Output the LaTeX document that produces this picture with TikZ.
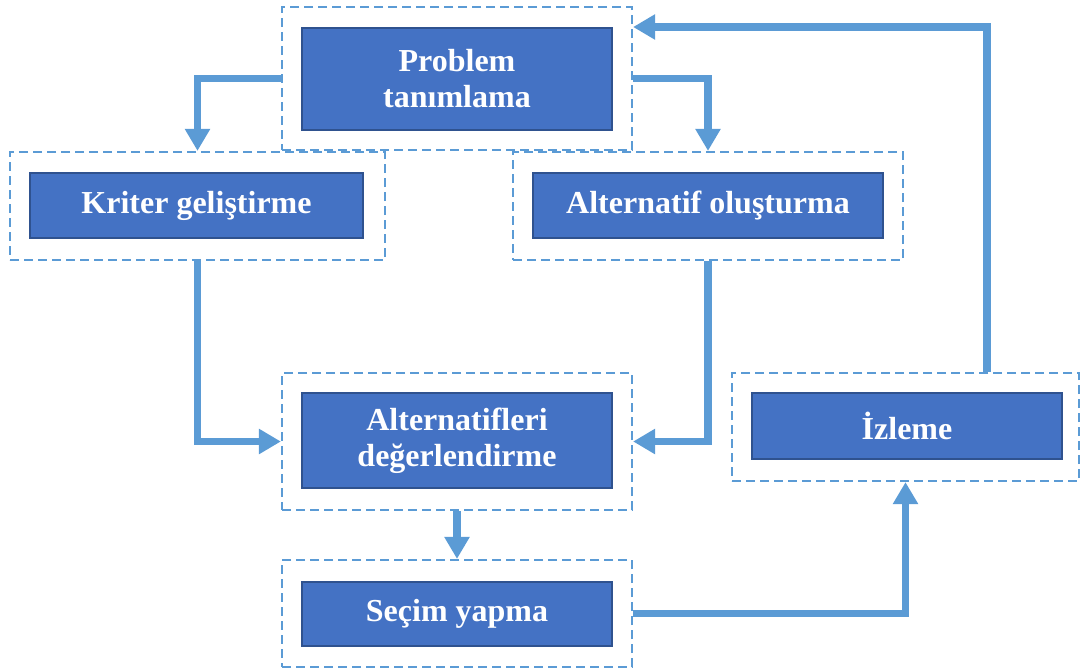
\documentclass[tikz,border=0pt]{standalone}
\usepackage{fontspec}
\setmainfont{Liberation Serif}
\usetikzlibrary{arrows.meta,calc}
\definecolor{boxfill}{HTML}{4472C4}
\definecolor{boxline}{HTML}{2F528F}
\definecolor{flow}{HTML}{5B9BD5}
\begin{document}
\begin{tikzpicture}[x=1pt,y=-1pt,
  dbox/.style={draw=flow, line width=2.2pt, dash pattern=on 9pt off 5pt, inner sep=0pt},
  ibox/.style={draw=boxline, fill=boxfill, line width=2pt, text=white,
    font=\fontsize{32}{36}\selectfont\bfseries, align=center, inner sep=0pt},
  flowarrow/.style={draw=flow, line width=7.5pt, line join=miter,
    -{Triangle[width=24pt,length=22pt]}}]
\useasboundingbox (0,0) rectangle (1080,670);

% dashed frames
\node[dbox, minimum width=350pt, minimum height=143pt] (pd) at (457,78.5) {};
\node[dbox, minimum width=375pt, minimum height=108pt] (kd) at (197.5,206) {};
\node[dbox, minimum width=390pt, minimum height=108pt] (ad) at (708,206) {};
\node[dbox, minimum width=350pt, minimum height=137pt] (ed) at (457,441.5) {};
\node[dbox, minimum width=350pt, minimum height=107pt] (sd) at (457,613.5) {};
\node[dbox, minimum width=347pt, minimum height=108pt] (id) at (905.5,427) {};

% inner boxes
\node[ibox, minimum width=310pt, minimum height=102pt] (p) at (457,79) {Problem\\tanımlama};
\node[ibox, minimum width=333pt, minimum height=65pt] (k) at (196.5,205.5) {Kriter geliştirme};
\node[ibox, minimum width=350pt, minimum height=65pt] (a) at (708,205.5) {Alternatif oluşturma};
\node[ibox, minimum width=310pt, minimum height=95pt] (e) at (457,440.5) {Alternatifleri\\değerlendirme};
\node[ibox, minimum width=310pt, minimum height=64pt] (s) at (457,614) {Seçim yapma};
\node[ibox, minimum width=310pt, minimum height=66pt] (i) at (907,426) {İzleme};

% connectors
\draw[flowarrow] (pd.west) -| (kd.north);
\draw[flowarrow] (pd.east) -| (ad.north);
\draw[flowarrow] (kd.south) |- (ed.west);
\draw[flowarrow] (ad.south) |- (ed.east);
\draw[flowarrow] (ed.south) -- (sd.north);
\draw[flowarrow] (sd.east) -| (id.south);
\draw[flowarrow] ([xshift=81.5pt]id.north) |- (p.north -| pd.east);
\end{tikzpicture}
\end{document}
